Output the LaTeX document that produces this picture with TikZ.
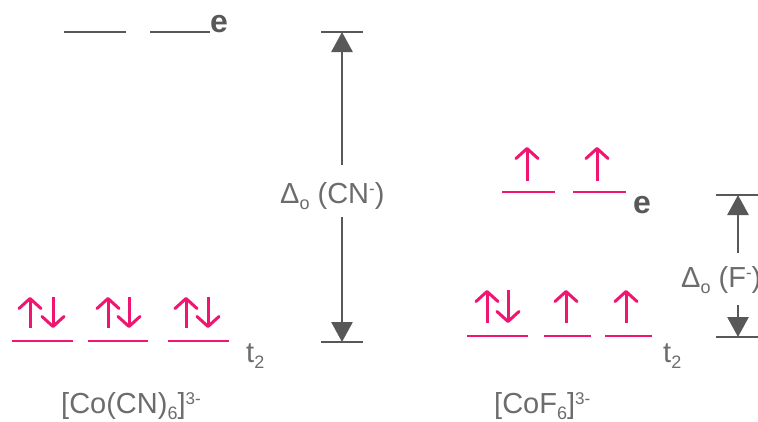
\documentclass[tikz,border=0pt]{standalone}
\usepackage{fontspec}
\setmainfont{Liberation Sans}
\usetikzlibrary{arrows.meta}

\definecolor{levelgray}{RGB}{88,88,88}
\definecolor{textgray}{RGB}{108,108,108}
\definecolor{spinpink}{RGB}{238,22,112}

% lowered / raised small text for chemical formulae
\newcommand\lowsub[1]{\raisebox{-6.5pt}{\fontsize{18}{18}\selectfont #1}}
\newcommand\highsup[1]{\raisebox{8.5pt}{\fontsize{17}{17}\selectfont #1}}

\tikzset{
  graylevel/.style={draw=levelgray, line width=2.6pt},
  pinklevel/.style={draw=spinpink, line width=2.8pt},
  spin/.style={draw=spinpink, line width=3pt,
    -{Straight Barb[length=10pt,width=22pt,line cap=round,line join=round]}},
  gapshaft/.style={draw=levelgray, line width=2.8pt,
    -{Triangle[length=20pt,width=21pt]}},
  capline/.style={draw=levelgray, line width=2.6pt},
  label/.style={inner sep=0pt, anchor=base west, text=textgray,
    font=\fontsize{29}{32}\selectfont},
  orbname/.style={inner sep=0pt, anchor=base west, text=levelgray,
    font=\fontsize{32}{34}\selectfont\bfseries},
}

\begin{document}
\begin{tikzpicture}[x=1pt, y=-1pt]
\useasboundingbox (0,0) rectangle (758,421);

% ---------- low-spin complex: [Co(CN)6]3- ----------
% empty e levels
\draw[graylevel] (64,32) -- (126,32);
\draw[graylevel] (150,32) -- (210,32);
\node[orbname] (eCN) at (210,32) {e};

% filled t2 levels
\foreach \a/\b/\u/\d in {12/73/30/53, 88/148/108/129, 168/229/186/208}{
  \draw[pinklevel] (\a,341) -- (\b,341);
  \draw[spin] (\u,328) -- (\u,297);
  \draw[spin] (\d,297) -- (\d,328);
}
\node[label] (tCN) at (246,362) {t\lowsub{2}};
\node[label] (nameCN) at (61,413) {[Co(CN)\lowsub{6}]\highsup{3-}};

% splitting energy for CN-
\coordinate (cnTop) at (342,32);
\coordinate (cnBot) at (342,342);
\coordinate (cnGapT) at (342,165);
\coordinate (cnGapB) at (342,217);
\draw[capline] (321,32) -- (363,32);
\draw[capline] (321,342) -- (363,342);
\draw[gapshaft] (cnGapT) -- (cnTop);
\draw[gapshaft] (cnGapB) -- (cnBot);
\node[label] (dCN) at (280,203) {Δ\lowsub{o} (CN\highsup{-})};

% ---------- high-spin complex: [CoF6]3- ----------
% half-filled e levels
\foreach \a/\b/\u in {502/555/527, 573/626/597}{
  \draw[pinklevel] (\a,192) -- (\b,192);
  \draw[spin] (\u,181) -- (\u,147);
}
\node[orbname] (eF) at (633,213) {e};

% t2 levels
\draw[pinklevel] (467,336) -- (528,336);
\draw[spin] (487,323) -- (487,290);
\draw[spin] (508,290) -- (508,323);
\draw[pinklevel] (544,336) -- (591,336);
\draw[spin] (566,323) -- (566,290);
\draw[pinklevel] (605,336) -- (652,336);
\draw[spin] (626,323) -- (626,290);
\node[label] (tF) at (663,362) {t\lowsub{2}};
\node[label] (nameF) at (494,413) {[CoF\lowsub{6}]\highsup{3-}};

% splitting energy for F-
\coordinate (fTop) at (738,195);
\coordinate (fBot) at (738,337);
\coordinate (fGapT) at (738,253);
\coordinate (fGapB) at (738,305);
\draw[capline] (716,195) -- (760,195);
\draw[capline] (716,337) -- (760,337);
\draw[gapshaft] (fGapT) -- (fTop);
\draw[gapshaft] (fGapB) -- (fBot);
\node[label] (dF) at (681,287) {Δ\lowsub{o} (F\highsup{-})};
\end{tikzpicture}
\end{document}
